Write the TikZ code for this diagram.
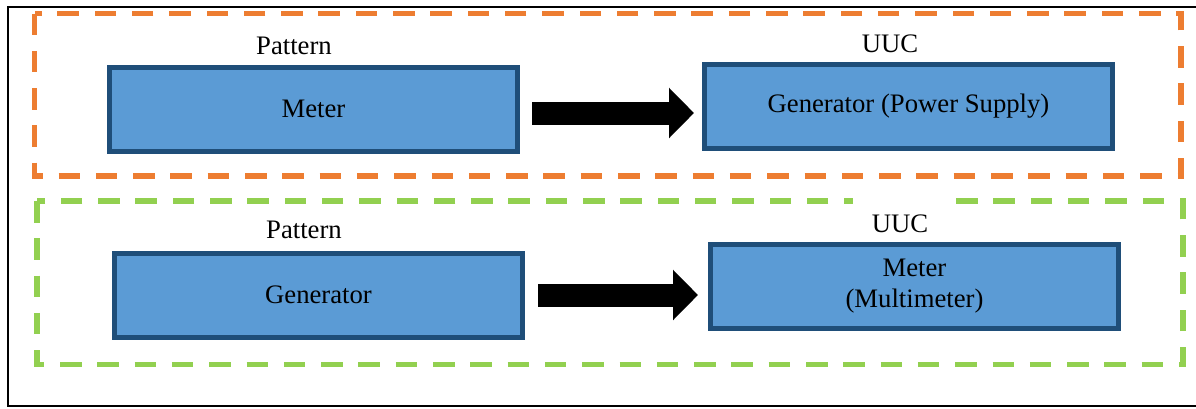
\documentclass[tikz,border=0pt]{standalone}
\usepackage{fontspec}
\setmainfont{Liberation Serif}
\usepackage{tikz}
\usetikzlibrary{arrows.meta,positioning,calc}
\definecolor{boxfill}{HTML}{5B9BD5}
\definecolor{boxline}{HTML}{1F4E79}
\definecolor{grouporange}{HTML}{ED7D31}
\definecolor{groupgreen}{HTML}{92D050}

\begin{document}
\begin{tikzpicture}[
    x=0.5pt, y=-0.5pt,
    font=\fontsize{13.35}{15.5}\selectfont,
    bluenode/.style={rectangle, draw=boxline, fill=boxfill, line width=2.5pt, align=center, minimum width=204pt, minimum height=42pt},
    groupbox/.style={line width=2.6pt, dash pattern=on 10.75pt off 7.9pt},
    bigarrow/.style={line width=11.5pt, -{Triangle[length=12.5pt,width=24.5pt]}}
    ]
    \useasboundingbox (0,0) rectangle (1196,408);

    %Frames
    \draw[line width=1pt] (8,7) rectangle (1210,406);
    \draw[groupbox, grouporange] (34.5,13.5) rectangle (1181,176);
    \draw[groupbox, groupgreen] (37,201) rectangle (1183,364.5);

    %Nodes
    \node[bluenode] (meter) at (313.5,109)   {Meter};
    \node[bluenode] (genps) at (908.5,106.5) {Generator (Power Supply)};
    \node[bluenode] (gen)   at (318.5,295)   {Generator};
    \node[bluenode] (mm)    at (914.5,286.5) {Meter\\(Multimeter)};

    % Text labels (outside nodes)
    \node[above=1.5pt of meter, xshift=-9.75pt] (patt1) {Pattern};
    \node[above=1pt of genps, xshift=-9.25pt]   (uuc1)  {UUC};
    \node[above=2.5pt of gen, xshift=-7.25pt]   (patt2) {Pattern};
    \node[above=0pt of mm, xshift=-7.25pt, fill=white, minimum width=47.5pt, text height=14.5pt, inner ysep=4.5pt] (uuc2) {UUC};

    %Lines
    \draw[bigarrow] ($(meter.east)+(12,4)$) -- ($(meter.east -| genps.west)+(-8,4)$);
    \draw[bigarrow] ($(gen.east)+(13,0)$) -- ($(gen.east -| mm.west)+(-10,0)$);
\end{tikzpicture}
\end{document}
